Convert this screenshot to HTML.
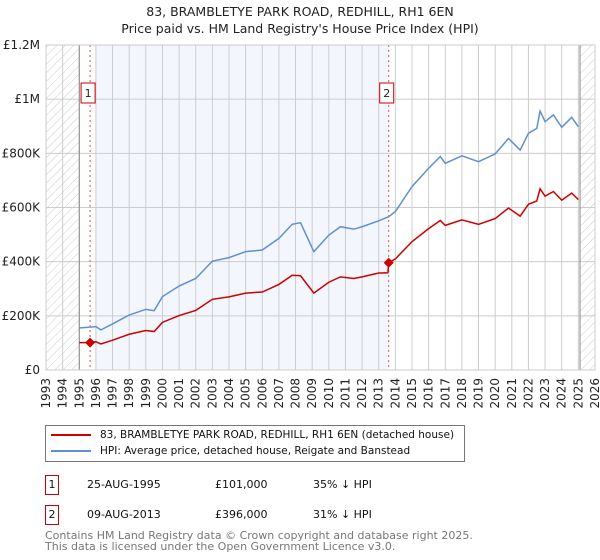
<!DOCTYPE html>
<html><head><meta charset="utf-8"><style>
body{margin:0;background:#fff;font-family:"DejaVu Sans","Liberation Sans",sans-serif;}
#wrap{position:relative;width:600px;height:560px;overflow:hidden}
</style></head><body><div id="wrap">
<svg id="chart" width="600" height="560" style="position:absolute;left:0;top:0;font-family:'DejaVu Sans','Liberation Sans',sans-serif">
<defs><pattern id="hatch" width="6" height="6" patternUnits="userSpaceOnUse" patternTransform="rotate(45)"><line x1="0" y1="0" x2="0" y2="6" stroke="#ccc" stroke-width="1"/></pattern></defs>
<text x="300" y="16" text-anchor="middle" font-size="12.5" fill="#222">83, BRAMBLETYE PARK ROAD, REDHILL, RH1 6EN</text>
<text x="300" y="33" text-anchor="middle" font-size="12.5" fill="#222">Price paid vs. HM Land Registry's House Price Index (HPI)</text>
<g id="plot"></g>
</svg>
<div style="position:absolute;left:45px;top:425px;width:418px;height:35px;border:1px solid #777;font-size:10.5px;color:#111;white-space:nowrap">
 <div style="position:absolute;left:5px;top:3px"><span style="display:inline-block;width:40px;height:2px;background:#cc0000;vertical-align:middle;margin-right:9px"></span>83, BRAMBLETYE PARK ROAD, REDHILL, RH1 6EN (detached house)</div>
 <div style="position:absolute;left:5px;top:19px"><span style="display:inline-block;width:40px;height:2px;background:#6090d0;vertical-align:middle;margin-right:9px"></span>HPI: Average price, detached house, Reigate and Banstead</div>
</div>
<div style="font-size:11px;color:#111;white-space:nowrap">
 <div style="position:absolute;left:45px;top:475px;width:12px;height:18px;border:1px solid #cc0000;text-align:center;line-height:18px">1</div>
 <div style="position:absolute;left:87px;top:478px">25-AUG-1995</div>
 <div style="position:absolute;left:215px;top:478px">£101,000</div>
 <div style="position:absolute;left:313px;top:478px">35% ↓ HPI</div>
 <div style="position:absolute;left:45px;top:505px;width:12px;height:18px;border:1px solid #cc0000;text-align:center;line-height:18px">2</div>
 <div style="position:absolute;left:87px;top:508px">09-AUG-2013</div>
 <div style="position:absolute;left:215px;top:508px">£396,000</div>
 <div style="position:absolute;left:313px;top:508px">31% ↓ HPI</div>
</div>
<div style="position:absolute;left:45px;top:530px;font-size:11px;color:#777;line-height:11px;white-space:nowrap">Contains HM Land Registry data © Crown copyright and database right 2025.<br>This data is licensed under the Open Government Licence v3.0.</div>
</div>
<script>
const hpiYears=[1995,1996,1996.3,1997,1998,1999,1999.5,2000,2001,2002,2003,2004,2005,2006,2007,2007.8,2008.3,2009.1,2010,2010.7,2011.5,2012,2013,2013.6,2014,2015,2016,2016.7,2017,2018,2019,2020,2020.8,2021.5,2022,2022.5,2022.7,2023,2023.5,2024,2024.6,2025];
const hpiValues=[155,160,148,170,203,224,219,271,310,338,402,415,437,443,486,538,544,437,498,529,520,529,551,566,585,677,745,788,763,791,769,798,855,812,874,892,956,917,942,896,933,898];
const redYears=[1995,1995.65,1996,1996.3,1997,1998,1999,1999.5,2000,2001,2002,2003,2004,2005,2006,2007,2007.8,2008.3,2009.1,2010,2010.7,2011.5,2012,2013,2013.55,2013.6,2014,2015,2016,2016.7,2017,2018,2019,2020,2020.8,2021.5,2022,2022.5,2022.7,2023,2023.5,2024,2024.6,2025];
const redValues=[101,101,104,96,110,132,146,142,176,201,220,261,270,284,288,316,350,348,284,324,344,338,344,358,359,396,410,474,522,552,534,554,538,559,598,568,612,624,669,642,659,627,653,629];
const saleYears=[1995.65,2013.6];
const saleValues=[101,396];
const saleLabels=["1","2"];
const yTicks=[0,200,400,600,800,1000,1200];
const yTickLabels=["£0","£200K","£400K","£600K","£800K","£1M","£1.2M"];
const xTicks=[1993,1994,1995,1996,1997,1998,1999,2000,2001,2002,2003,2004,2005,2006,2007,2008,2009,2010,2011,2012,2013,2014,2015,2016,2017,2018,2019,2020,2021,2022,2023,2024,2025,2026];

const L=46,R=595,T=45,B=370;
const xs=y=>L+(y-1993)/(2026-1993)*(R-L);
const ys=v=>B-v/1200*(B-T);
const NS="http://www.w3.org/2000/svg";
const g=document.getElementById('plot');
function mk(t,a){const e=document.createElementNS(NS,t);for(const k in a)e.setAttribute(k,a[k]);g.appendChild(e);return e;}
let e;
e=mk('rect',{x:xs(1996),y:T,width:xs(2013.6)-xs(1996),height:B-T,fill:'#eef3fc',opacity:0.7});


e=mk('rect',{x:L,y:T,width:xs(1995)-L,height:B-T,fill:'url(#hatch)'});


e=mk('rect',{x:xs(2025.1),y:T,width:R-xs(2025.1),height:B-T,fill:'url(#hatch)'});


xTicks.forEach((t,i)=>{
 e=mk('line',{x1:xs(t),x2:xs(t),y1:T,y2:B,stroke:'#ccc','stroke-width':1});
 
 
 e=mk('text',{x:xs(t)+4,y:B+8,'font-size':12,fill:'#222','text-anchor':'end',transform:`rotate(-90 ${xs(t)+4} ${B+8})`});
 e.textContent=t;
 
 
});
yTicks.forEach((t,i)=>{
 e=mk('line',{x1:L,x2:R,y1:ys(t),y2:ys(t),stroke:'#ccc','stroke-width':1});
 
 
 e=mk('text',{x:40,y:ys(t)+4,'font-size':12,fill:'#222','text-anchor':'end'});
 e.textContent=yTickLabels[i];
 
 
});
[1995,2025.1].forEach(t=>{
 e=mk('line',{x1:xs(t),x2:xs(t),y1:T,y2:B,stroke:'#888','stroke-width':1});
 
 
});
saleYears.forEach((s,i)=>{
 e=mk('line',{x1:xs(s),x2:xs(s),y1:T,y2:B,stroke:'#e05050','stroke-width':1,'stroke-dasharray':'2,3'});
 
 
});
e=mk('polyline',{points:hpiYears.map((y,i)=>xs(y)+','+ys(hpiValues[i])).join(' '),fill:'none',stroke:'#6090d0','stroke-width':1.5});


e=mk('polyline',{points:redYears.map((y,i)=>xs(y)+','+ys(redValues[i])).join(' '),fill:'none',stroke:'#cc0000','stroke-width':1.5});


saleYears.forEach((s,i)=>{
 const cx=xs(s),cy=ys(saleValues[i]);
 e=mk('polygon',{points:`${cx},${cy-5} ${cx+5},${cy} ${cx},${cy+5} ${cx-5},${cy}`,fill:'#cc0000'});
 
 
 e=mk('rect',{x:cx-9,y:83,width:14,height:20,fill:'#fff',stroke:'#cc0000'});
 
 
 e=mk('text',{x:cx-2,y:97,'font-size':11,fill:'#222','text-anchor':'middle'});
 e.textContent=saleLabels[i];
 
 
});
e=mk('rect',{x:L,y:T,width:R-L,height:B-T,fill:'none',stroke:'#ccc'});


</script>
</body></html>
